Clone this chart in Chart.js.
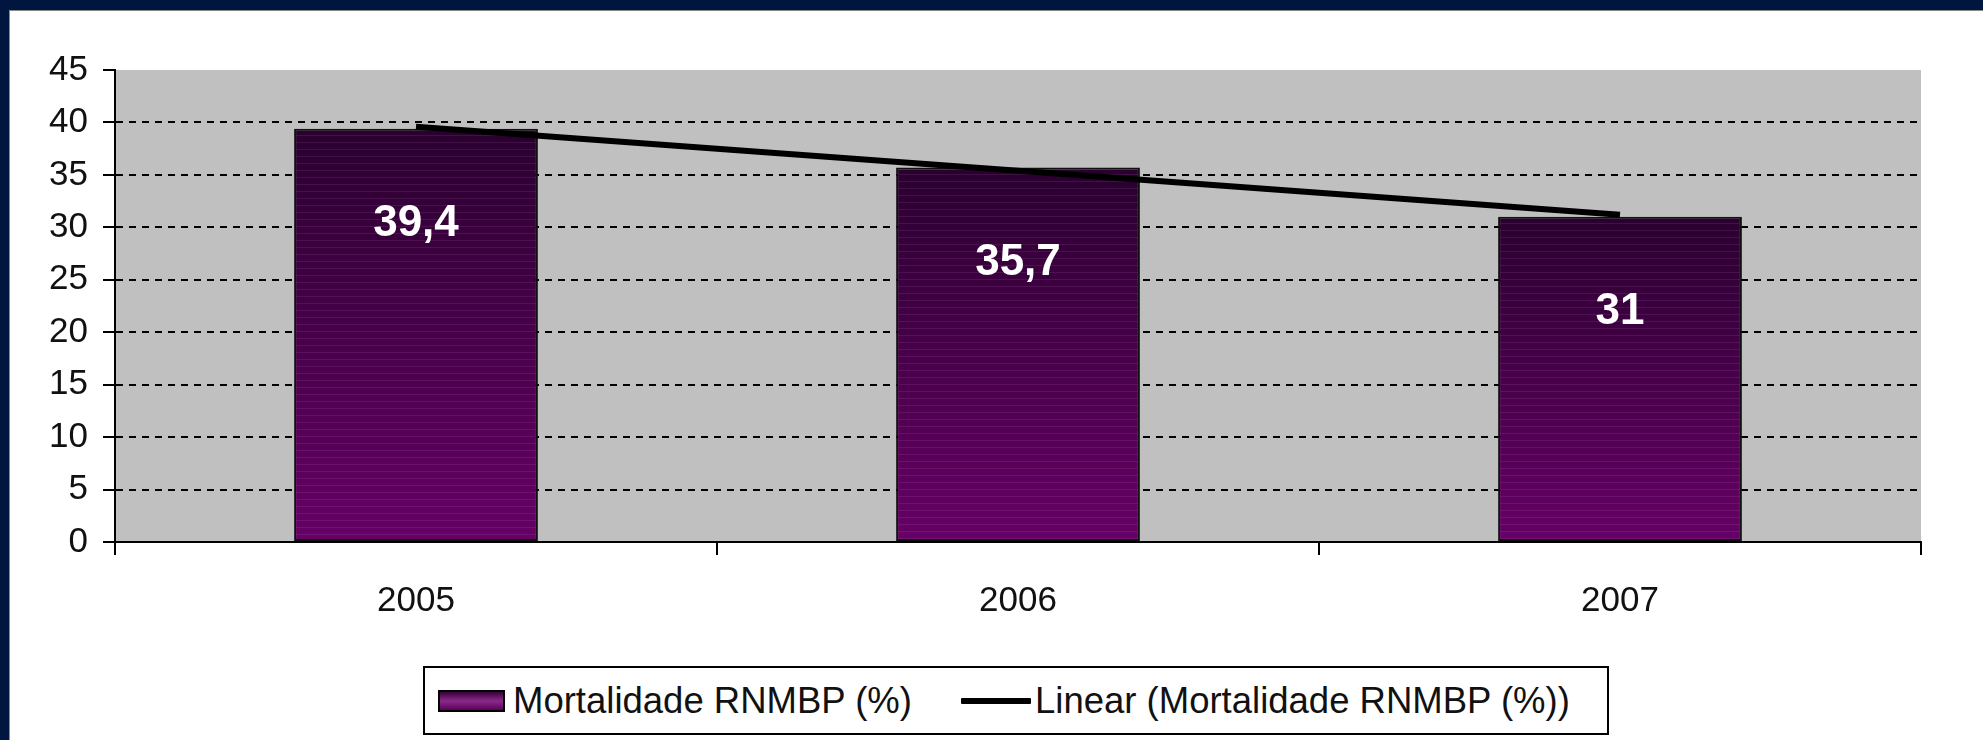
<!DOCTYPE html>
<html>
<head>
<meta charset="utf-8">
<script src="https://cdn.jsdelivr.net/npm/chart.js@4.4.1/dist/chart.umd.min.js"></script>
<style>
html,body{margin:0;padding:0;width:1983px;height:740px;overflow:hidden;background:#00163f;}
#panel{position:absolute;left:9px;top:10px;right:0;bottom:0;background:#fff;border-top:1px solid #8a8a8a;border-left:1px solid #8a8a8a;}
#c{position:absolute;left:0;top:0;}
#legend{position:absolute;left:423px;top:666px;width:1186px;height:69px;box-sizing:border-box;border:2px solid #000;background:#fff;
  font-family:'Liberation Sans',Arial,sans-serif;font-size:36.5px;color:#111;}
#legend .mk{position:absolute;left:13px;top:22px;width:67px;height:22px;box-sizing:border-box;border:2px solid #000;
  background:linear-gradient(#3a003a,#8a2a8a 50%,#5a005a);}
#legend .ln{position:absolute;left:536px;top:30px;width:70px;height:6px;background:#000;border-radius:1px;}
#legend .t{position:absolute;top:0;line-height:65px;white-space:nowrap;}
</style>
</head>
<body>
<div id="panel"></div>
<canvas id="c" width="1983" height="740"></canvas>
<div id="legend"></div>
<script>
// ---- data ----
const categories = ['2005', '2006', '2007'];
const mortality = [39.4, 35.7, 31];
const trendLine = [39.6, 35.4, 31.2];
const seriesNames = ['Mortalidade RNMBP (%)', 'Linear (Mortalidade RNMBP (%))'];
const yMin = 0, yMax = 45, yStep = 5;

const FONT = "'Liberation Sans',Arial,sans-serif";

// HTML legend
const lg = document.getElementById('legend');
lg.innerHTML = '<div class="mk"></div><div class="t" style="left:88px">' + seriesNames[0] +
  '</div><div class="ln"></div><div class="t" style="left:610px">' + seriesNames[1] + '</div>';

const plotBg = {
  id: 'plotBg',
  beforeDraw(chart) {
    const {ctx, chartArea: a} = chart;
    ctx.save();
    ctx.fillStyle = '#c0c0c0';
    ctx.fillRect(a.left, a.top, a.right - a.left, a.bottom - a.top);
    ctx.restore();
  }
};

const barTexture = {
  id: 'barTexture',
  afterDatasetDraw(chart, args) {
    if (args.index !== 1) return;
    const meta = chart.getDatasetMeta(1);
    const ctx = chart.ctx;
    ctx.save();
    meta.data.forEach(bar => {
      const l = bar.x - bar.width / 2 + 2, r = bar.x + bar.width / 2 - 2;
      ctx.strokeStyle = 'rgba(255,200,255,0.09)';
      ctx.lineWidth = 1;
      for (let y = bar.y + 6; y < bar.base - 3; y += 7) {
        ctx.beginPath();
        ctx.moveTo(l, Math.round(y) + 0.5);
        ctx.lineTo(r, Math.round(y) + 0.5);
        ctx.stroke();
      }
    });
    ctx.restore();
  }
};

const valueLabels = {
  id: 'valueLabels',
  afterDatasetsDraw(chart) {
    const meta = chart.getDatasetMeta(1);
    const ctx = chart.ctx;
    ctx.save();
    ctx.fillStyle = '#fff';
    ctx.font = 'bold 44px ' + FONT;
    ctx.textAlign = 'center';
    ctx.textBaseline = 'middle';
    meta.data.forEach((bar, i) => {
      const txt = String(mortality[i]).replace('.', ',');
      ctx.fillText(txt, bar.x, bar.y + 95);
    });
    ctx.restore();
  }
};

new Chart(document.getElementById('c'), {
  data: {
    labels: categories,
    datasets: [
      {
        type: 'line',
        label: seriesNames[1],
        data: trendLine,
        borderColor: '#000',
        borderWidth: 6,
        borderCapStyle: 'butt',
        pointRadius: 0,
        fill: false,
        tension: 0,
        order: 0
      },
      {
        type: 'bar',
        label: seriesNames[0],
        data: mortality,
        backgroundColor: (c) => {
          const chart = c.chart;
          const {ctx, chartArea, scales} = chart;
          if (!chartArea || !scales.y || c.raw === undefined) return '#4a004a';
          const top = scales.y.getPixelForValue(c.raw);
          const bottom = scales.y.getPixelForValue(0);
          const g = ctx.createLinearGradient(0, top, 0, bottom);
          g.addColorStop(0, '#2a0030');
          g.addColorStop(0.5, '#48004a');
          g.addColorStop(1, '#660066');
          return g;
        },
        borderColor: '#111',
        borderWidth: 2,
        borderSkipped: false,
        barPercentage: 0.405,
        categoryPercentage: 1,
        order: 1
      }
    ]
  },
  options: {
    responsive: false,
    animation: false,
    layout: {padding: {top: 70, right: 62, left: 0, bottom: 0}},
    plugins: {legend: {display: false}, tooltip: {enabled: false}},
    scales: {
      x: {
        offset: true,
        afterFit: s => { s.height = 198; },
        grid: {offset: true, drawOnChartArea: false, drawTicks: true, tickLength: 13,
               color: '#000', tickColor: '#000', lineWidth: 2, tickWidth: 2},
        border: {display: true, color: '#000', width: 2},
        ticks: {color: '#111', padding: 25, font: {family: FONT, size: 35}}
      },
      y: {
        min: yMin, max: yMax,
        afterFit: s => { s.width = 115; },
        ticks: {stepSize: yStep, color: '#111', padding: 15, font: {family: FONT, size: 35}},
        grid: {
          color: c => (c.tick && (c.tick.value === yMin || c.tick.value === yMax)) ? 'rgba(0,0,0,0)' : '#000',
          lineWidth: 2, tickLength: 12, tickColor: '#000', tickWidth: 2, tickBorderDash: []
        },
        border: {display: true, color: '#000', width: 2, dash: [7, 6]}
      }
    }
  },
  plugins: [plotBg, barTexture, valueLabels]
});
</script>
</body>
</html>
